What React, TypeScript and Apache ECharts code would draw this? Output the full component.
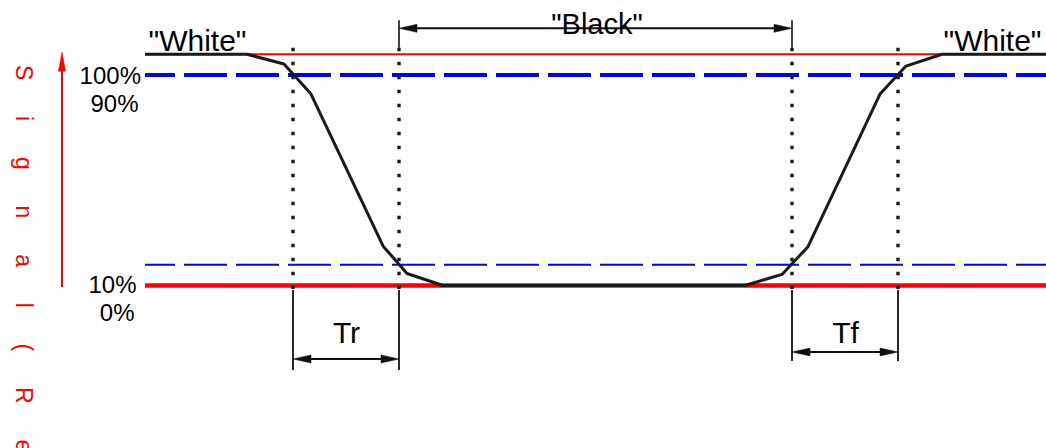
import React, { useEffect, useRef } from "react";
import * as echarts from "echarts";

// ---- data (time in arbitrary units, signal in % of full white) ----
const TIME_RANGE = [0, 90.1];
const SIGNAL_RANGE = [0, 100];
const RESPONSE_TIME = [0, 10.2, 13.9, 16.6, 23.8, 26.2, 29.8, 60, 63.7, 66.3, 73.5, 76.1, 79.7, 90.1];
const RESPONSE_SIGNAL = [100, 100, 95.8, 82.8, 17.1, 5.2, 0, 0, 4.8, 16.8, 82.8, 94.9, 100, 100];
const WHITE_LEVEL = 100;
const BLACK_LEVEL = 0;
const UPPER_THRESHOLD = 91;
const LOWER_THRESHOLD = 9;
const MARKER_TIMES = [14.8, 25.4, 64.7, 75.3];
const LEVEL_LABELS = ["100%", "90%", "10%", "0%"];
const STATE_LABELS = ['"White"', '"Black"', '"White"'];
const INTERVAL_LABELS = ["Tr", "Tf"];
const AXIS_TITLE = "Signal (Relative Luminance)";

const FONT = '"Liberation Sans", Arial, Helvetica, sans-serif';
const RED = "#ff0000";
const BLUE = "#0000ff";
const INK = "#111111";

export default function App() {
  const ref = useRef<HTMLDivElement>(null);

  useEffect(() => {
    document.body.style.margin = "0";
    const chart = echarts.init(ref.current!, null, { renderer: "svg" });

    const level = (v: number) => [
      [TIME_RANGE[0], v],
      [TIME_RANGE[1], v],
    ];
    const lineSeries = (name: string, data: number[][], lineStyle: any, z: number) => ({
      type: "line",
      name,
      data,
      symbol: "none",
      showSymbol: false,
      clip: false,
      silent: true,
      smooth: false,
      z,
      lineStyle,
    });

    chart.setOption({
      animation: false,
      grid: { left: 145, right: 0, top: 54.3, bottom: 162.5, containLabel: false },
      xAxis: { type: "value", min: TIME_RANGE[0], max: TIME_RANGE[1], show: false },
      yAxis: { type: "value", min: SIGNAL_RANGE[0], max: SIGNAL_RANGE[1], show: false },
      series: [
        lineSeries("white", level(WHITE_LEVEL), { color: RED, width: 2 }, 2),
        lineSeries("black", level(BLACK_LEVEL), { color: RED, width: 4.5 }, 2),
        lineSeries("upper", level(UPPER_THRESHOLD), { color: BLUE, width: 4, type: [43, 9], dashOffset: 13 }, 3),
        lineSeries("lower", level(LOWER_THRESHOLD), { color: BLUE, width: 2, type: [43, 9], dashOffset: 13 }, 3),
        lineSeries(
          "response",
          RESPONSE_TIME.map((t, i) => [t, RESPONSE_SIGNAL[i]]),
          { color: "#1a1a1a", width: 3, join: "round" },
          5
        ),
      ],
    });

    const px = (t: number, v: number) => chart.convertToPixel({ gridIndex: 0 }, [t, v]) as number[];
    const yWhite = px(0, WHITE_LEVEL)[1];
    const yBlack = px(0, BLACK_LEVEL)[1];
    const yUpper = px(0, UPPER_THRESHOLD)[1];
    const xLeft = px(TIME_RANGE[0], 0)[0];
    const xRight = px(TIME_RANGE[1], 0)[0];
    const mx = MARKER_TIMES.map((t) => px(t, 0)[0]);

    const line = (x1: number, y1: number, x2: number, y2: number, style: any) => ({
      type: "line",
      silent: true,
      z: 100,
      shape: { x1, y1, x2, y2 },
      style: { stroke: INK, lineWidth: 1.8, ...style },
    });
    const poly = (points: number[][], fill: string) => ({
      type: "polygon",
      silent: true,
      z: 100,
      shape: { points },
      style: { fill, stroke: fill, lineWidth: 0.5 },
    });
    const text = (t: string, x: number, y: number, size: number, align: string, fill = "#000", extra: any = {}) => ({
      type: "text",
      silent: true,
      z: 110,
      x,
      y,
      ...extra,
      style: {
        text: t,
        fill,
        fontSize: size,
        fontFamily: FONT,
        textAlign: align,
        align,
        textVerticalAlign: "middle",
        verticalAlign: "middle",
      },
    });
    // double-headed dimension arrow, heads pointing outward to the two ends
    const dimArrow = (xa: number, xb: number, y: number) => [
      line(xa + 6, y, xb - 6, y, { lineWidth: 2 }),
      poly([[xa, y], [xa + 18, y - 4], [xa + 18, y + 4]], INK),
      poly([[xb, y], [xb - 18, y - 4], [xb - 18, y + 4]], INK),
    ];

    const elements: any[] = [];
    // dotted marker lines
    mx.forEach((x) => {
      elements.push(line(x, yWhite - 6.5, x, yBlack + 3.5, { lineWidth: 3.4, lineDash: [3.4, 10.6], stroke: "#1a1a1a" }));
    });
    // "Black" interval
    elements.push(line(mx[1], yWhite - 34, mx[1], yWhite - 6.5, { lineWidth: 1.6 }));
    elements.push(line(mx[2], yWhite - 34, mx[2], yWhite - 6.5, { lineWidth: 1.6 }));
    elements.push(...dimArrow(mx[1], mx[2], yWhite - 26));
    elements.push(text(STATE_LABELS[1], (mx[1] + mx[2]) / 2 + 1.5, yWhite - 30.3, 29, "center"));
    // "White" labels
    elements.push(text(STATE_LABELS[0], xLeft + 3.5, yWhite - 13.7, 30, "left"));
    elements.push(text(STATE_LABELS[2], xRight - 4.5, yWhite - 13.7, 30, "right"));
    // level labels
    elements.push(text(LEVEL_LABELS[0], xLeft - 4, yUpper, 24, "right"));
    elements.push(text(LEVEL_LABELS[1], xLeft - 6.5, yUpper + 28, 24, "right"));
    elements.push(text(LEVEL_LABELS[2], xLeft - 8.5, yBlack - 0.8, 24, "right"));
    elements.push(text(LEVEL_LABELS[3], xLeft - 10.5, yBlack + 27.2, 24, "right"));
    // Tr / Tf dimensions
    const dims = [
      { a: mx[0], b: mx[1], end: 84.5, arrow: 73.5 },
      { a: mx[2], b: mx[3], end: 75.5, arrow: 66.5 },
    ];
    dims.forEach((d, i) => {
      elements.push(line(d.a, yBlack + 4.5, d.a, yBlack + d.end, {}));
      elements.push(line(d.b, yBlack + 4.5, d.b, yBlack + d.end, {}));
      elements.push(...dimArrow(d.a, d.b, yBlack + d.arrow));
      elements.push(text(INTERVAL_LABELS[i], (d.a + d.b) / 2 + 0.5, yBlack + 47, 30, "center"));
    });
    // red signal axis arrow
    const ax = xLeft - 83;
    elements.push(line(ax, yBlack + 1.5, ax, yWhite + 10, { stroke: RED, lineWidth: 2 }));
    elements.push(poly([[ax, yWhite - 2.3], [ax - 3.6, yWhite + 17], [ax + 3.6, yWhite + 17]], RED));
    // rotated, letter-spaced axis title
    const spaced = AXIS_TITLE.split("")
      .filter((c) => c !== " ")
      .join("\u00a0".repeat(5) + "\u2006");
    elements.push(text(spaced, xLeft - 120.8, yWhite + 10.7, 23, "left", RED, { rotation: -Math.PI / 2 }));

    chart.setOption({ graphic: elements });

    return () => chart.dispose();
  }, []);

  return <div ref={ref} style={{ width: 1046, height: 448 }} />;
}
